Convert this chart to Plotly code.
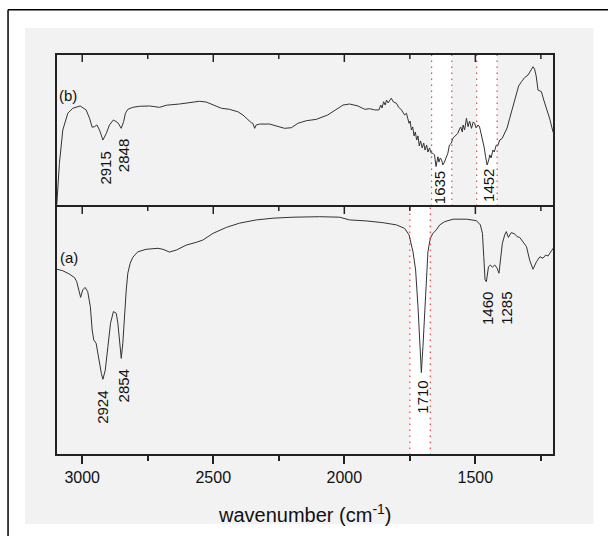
import plotly.graph_objects as go

# ---------------- data ----------------
# (b) upper spectrum: wavenumber (cm-1) and relative transmittance (a.u.)
wn_b = [3097, 3087, 3074, 3055, 3036, 3008, 2985, 2972, 2962, 2953, 2944, 2934, 2921, 2908,
        2896, 2881, 2864, 2851, 2842, 2835, 2826, 2807, 2781, 2743, 2705, 2679, 2629, 2590,
        2552, 2527, 2501, 2469, 2438, 2406, 2387, 2368, 2355, 2349, 2342, 2336, 2323, 2285,
        2260, 2228, 2202, 2177, 2145, 2107, 2063, 2030, 2005, 1980, 1948, 1922, 1903, 1884,
        1868, 1861, 1856, 1850, 1844, 1839, 1833, 1821, 1812, 1801, 1793, 1782, 1775, 1770,
        1763, 1758, 1753, 1749, 1744, 1739, 1734, 1729, 1724, 1719, 1714, 1709, 1703, 1697,
        1692, 1686, 1681, 1675, 1669, 1662, 1656, 1650, 1643, 1639, 1634, 1629, 1624, 1618,
        1611, 1605, 1599, 1592, 1586, 1579, 1574, 1567, 1562, 1556, 1550, 1547, 1541, 1534,
        1528, 1522, 1515, 1508, 1503, 1497, 1490, 1484, 1477, 1472, 1466, 1461, 1455, 1449,
        1445, 1440, 1433, 1428, 1420, 1415, 1407, 1398, 1388, 1379, 1369, 1356, 1343, 1335,
        1324, 1312, 1299, 1289, 1280, 1274, 1268, 1261, 1248, 1239, 1229, 1216, 1204, 1200]
t_b = [0.7, 28.1, 50.0, 61.0, 64.3, 65.8, 63.2, 57.7, 51.8, 52.2, 53.3, 50.0, 43.4, 47.8,
       53.3, 56.6, 54.8, 51.1, 55.5, 61.0, 63.6, 64.9, 65.6, 65.8, 64.9, 66.3, 67.1, 68.0,
       68.9, 68.4, 66.4, 64.3, 63.6, 62.0, 59.9, 56.6, 54.8, 54.4, 51.1, 53.3, 53.9, 53.9,
       52.8, 51.1, 51.5, 54.4, 56.1, 57.0, 59.9, 63.6, 66.4, 67.1, 65.8, 63.6, 64.0, 63.2,
       63.2, 66.4, 64.5, 68.6, 66.4, 69.7, 67.8, 70.9, 68.4, 67.6, 65.1, 63.2, 61.2, 59.9,
       61.0, 57.9, 54.4, 55.9, 50.0, 52.0, 46.1, 48.7, 43.4, 46.1, 39.5, 42.8, 38.2, 41.4,
       36.8, 40.1, 35.5, 38.2, 34.9, 34.7, 33.6, 25.9, 32.4, 28.9, 31.6, 30.3, 27.0, 28.9,
       32.4, 34.7, 40.1, 41.3, 44.5, 45.6, 46.7, 47.8, 50.0, 52.0, 48.7, 53.3, 50.0, 57.7,
       52.2, 55.9, 51.1, 55.3, 54.4, 51.3, 53.3, 52.0, 46.7, 43.4, 38.2, 32.4, 27.0, 30.3,
       33.6, 31.6, 36.8, 35.5, 40.1, 39.5, 43.4, 44.4, 47.8, 51.3, 57.7, 65.3, 74.1, 78.9,
       81.8, 84.5, 86.2, 88.8, 91.6, 90.1, 85.5, 76.3, 75.2, 69.7, 64.5, 57.2, 48.9, 47.4]

# (a) lower spectrum
wn_a = [3097, 3074, 3048, 3029, 3021, 3013, 3006, 2998, 2989, 2979, 2969, 2962, 2956, 2947,
        2937, 2927, 2921, 2912, 2902, 2892, 2881, 2870, 2864, 2858, 2851, 2845, 2839, 2832,
        2826, 2817, 2807, 2788, 2756, 2711, 2692, 2667, 2641, 2603, 2565, 2540, 2501, 2450,
        2400, 2336, 2272, 2196, 2094, 2018, 1980, 1916, 1853, 1801, 1770, 1753, 1738, 1728,
        1719, 1713, 1706, 1700, 1693, 1687, 1681, 1672, 1662, 1649, 1636, 1617, 1585, 1534,
        1496, 1481, 1473, 1468, 1463, 1458, 1450, 1443, 1435, 1426, 1417, 1410, 1404, 1397,
        1388, 1382, 1374, 1363, 1350, 1341, 1331, 1318, 1305, 1293, 1280, 1267, 1254, 1242,
        1232, 1223, 1214, 1204, 1200]
t_a = [74.6, 74.0, 72.6, 71.2, 69.6, 66.3, 63.3, 66.3, 67.3, 65.6, 59.6, 50.2, 46.2, 44.9,
       38.2, 32.8, 30.4, 34.1, 43.5, 52.9, 57.6, 56.9, 52.9, 46.2, 38.8, 44.9, 56.9, 66.3,
       73.0, 77.0, 79.4, 81.6, 82.6, 83.0, 82.6, 81.5, 82.3, 84.3, 85.4, 86.3, 89.0, 91.4,
       93.1, 94.4, 95.1, 95.5, 95.7, 95.5, 94.4, 94.0, 93.3, 92.4, 91.0, 88.4, 81.6, 74.3,
       59.6, 46.2, 33.1, 43.5, 58.2, 71.6, 81.6, 87.0, 89.0, 90.4, 92.4, 93.7, 94.7, 94.7,
       94.1, 92.4, 89.0, 79.6, 70.3, 69.6, 75.6, 76.3, 75.4, 76.3, 75.0, 73.0, 78.3, 85.0,
       88.4, 89.7, 87.4, 89.3, 88.8, 87.7, 87.4, 85.7, 83.7, 78.3, 74.6, 77.6, 79.6, 79.0,
       80.3, 79.9, 81.2, 83.0, 83.5]

# peak labels: text, x (cm-1), y (a.u.)
labels_b = ["2915", "2848", "1635", "1452"]
labels_b_x = [2912, 2842, 1636, 1452]
labels_b_y = [24.8, 33.2, 12.2, 13.8]
labels_a = ["2924", "2854", "1710", "1460", "1285"]
labels_a_x = [2921, 2841, 1700, 1456, 1384]
labels_a_y = [19.3, 27.9, 23.4, 59.0, 59.0]

# highlighted (white) bands, cm-1
bands_b = [(1667, 1590), (1495, 1417)]
bands_a = [(1750, 1672)]

# axis ticks (cm-1)
major_ticks = [3000, 2500, 2000, 1500]
minor_ticks = [2750, 2250, 1750, 1250]

x_range = [3100, 1200]

# ---------------- figure ----------------
FONT = "Arial, Liberation Sans, sans-serif"
GRAY = "#f2f2f2"
LINE = "#222222"
SPLIT = 0.621

fig = go.Figure()
fig.add_trace(go.Scatter(x=wn_a, y=t_a, mode="lines", line=dict(color="#333333", width=1),
                         xaxis="x", yaxis="y", showlegend=False, hoverinfo="skip"))
fig.add_trace(go.Scatter(x=wn_b, y=t_b, mode="lines", line=dict(color="#333333", width=1),
                         xaxis="x2", yaxis="y2", showlegend=False, hoverinfo="skip"))

shapes = []
# gray background panel and outer border (page decoration)
shapes.append(dict(type="rect", xref="paper", yref="paper", x0=-0.0622, x1=1.0792,
                   y0=-0.172, y1=1.0648, fillcolor=GRAY, line=dict(width=0), layer="below"))
shapes.append(dict(type="line", xref="paper", yref="paper", x0=-0.0963, x1=1.12,
                   y0=1.1105, y1=1.1105, line=dict(color="black", width=1.5)))
shapes.append(dict(type="line", xref="paper", yref="paper", x0=-0.0963, x1=-0.0963,
                   y0=1.1105, y1=-0.21, line=dict(color="black", width=1.5)))

for (xa, ya, bands) in [("x2", "y2", bands_b), ("x", "y", bands_a)]:
    for lo, hi in bands:
        shapes.append(dict(type="rect", xref=xa, yref=ya + " domain", x0=lo, x1=hi, y0=0, y1=1,
                           fillcolor="white", line=dict(width=0), layer="below"))
        for edge in (lo, hi):
            shapes.append(dict(type="line", xref=xa, yref=ya + " domain", x0=edge, x1=edge,
                               y0=0, y1=1, layer="above",
                               line=dict(color="rgba(255,40,40,0.9)", width=1.2, dash="1.5px,4.5px")))

# panel frames
for xa, ya in (("x2", "y2"), ("x", "y")):
    shapes.append(dict(type="rect", xref=xa + " domain", yref=ya + " domain", x0=0, x1=1,
                       y0=0, y1=1, layer="above", fillcolor="rgba(0,0,0,0)",
                       line=dict(color=LINE, width=2)))

# inward ticks on the top edge of panel (b) and on the shared boundary (pointing down)
for ticks, ln in ((major_ticks, 8), (minor_ticks, 5)):
    for v in ticks:
        for anchor in (1, 0):
            shapes.append(dict(type="line", xref="x2", yref="y2 domain", x0=v, x1=v,
                               ysizemode="pixel", yanchor=anchor, y0=0, y1=-ln,
                               layer="above", line=dict(color=LINE, width=1.5)))

annotations = []
for t, x, y in zip(labels_b, labels_b_x, labels_b_y):
    annotations.append(dict(text=t, x=x, y=y, xref="x2", yref="y2", showarrow=False,
                            textangle=-90, font=dict(size=15, color="#111", family=FONT)))
for t, x, y in zip(labels_a, labels_a_x, labels_a_y):
    annotations.append(dict(text=t, x=x, y=y, xref="x", yref="y", showarrow=False,
                            textangle=-90, font=dict(size=15, color="#111", family=FONT)))
annotations.append(dict(text="(b)", x=3053, y=73, xref="x2", yref="y2", showarrow=False,
                        font=dict(size=15, color="#111", family=FONT)))
annotations.append(dict(text="(a)", x=3050, y=79.3, xref="x", yref="y", showarrow=False,
                        font=dict(size=15, color="#111", family=FONT)))
annotations.append(dict(text="wavenumber (cm<sup>-1</sup>)", x=0.5, y=-0.147, xref="paper",
                        yref="paper", showarrow=False, xanchor="center", yanchor="middle",
                        font=dict(size=20, color="#111", family=FONT)))

common_x = dict(range=x_range, autorange=False, showgrid=False, zeroline=False,
                showline=False, tickcolor=LINE, tickwidth=1.5, tickvals=major_ticks)
common_y = dict(range=[0, 100], autorange=False, showgrid=False, zeroline=False,
                showline=False, ticks="", showticklabels=False)

fig.update_layout(
    width=608, height=536,
    margin=dict(l=56, r=53.5, t=54, b=81, pad=0),
    paper_bgcolor="white", plot_bgcolor=GRAY,
    font=dict(family=FONT, color="#111"),
    xaxis=dict(**common_x, anchor="y", side="bottom", ticks="outside", ticklen=8,
               showticklabels=True, tickfont=dict(size=16),
               minor=dict(tickvals=minor_ticks, ticks="outside", ticklen=5,
                          tickcolor=LINE, tickwidth=1.5)),
    xaxis2=dict(**common_x, anchor="y2", side="top", ticks="", showticklabels=False),
    yaxis=dict(**common_y, domain=[0, SPLIT], anchor="x"),
    yaxis2=dict(**common_y, domain=[SPLIT, 1], anchor="x2"),
    shapes=shapes, annotations=annotations,
)

fig.write_html("out.html", post_script="document.body.style.margin='0';",
               config={"displayModeBar": False})
